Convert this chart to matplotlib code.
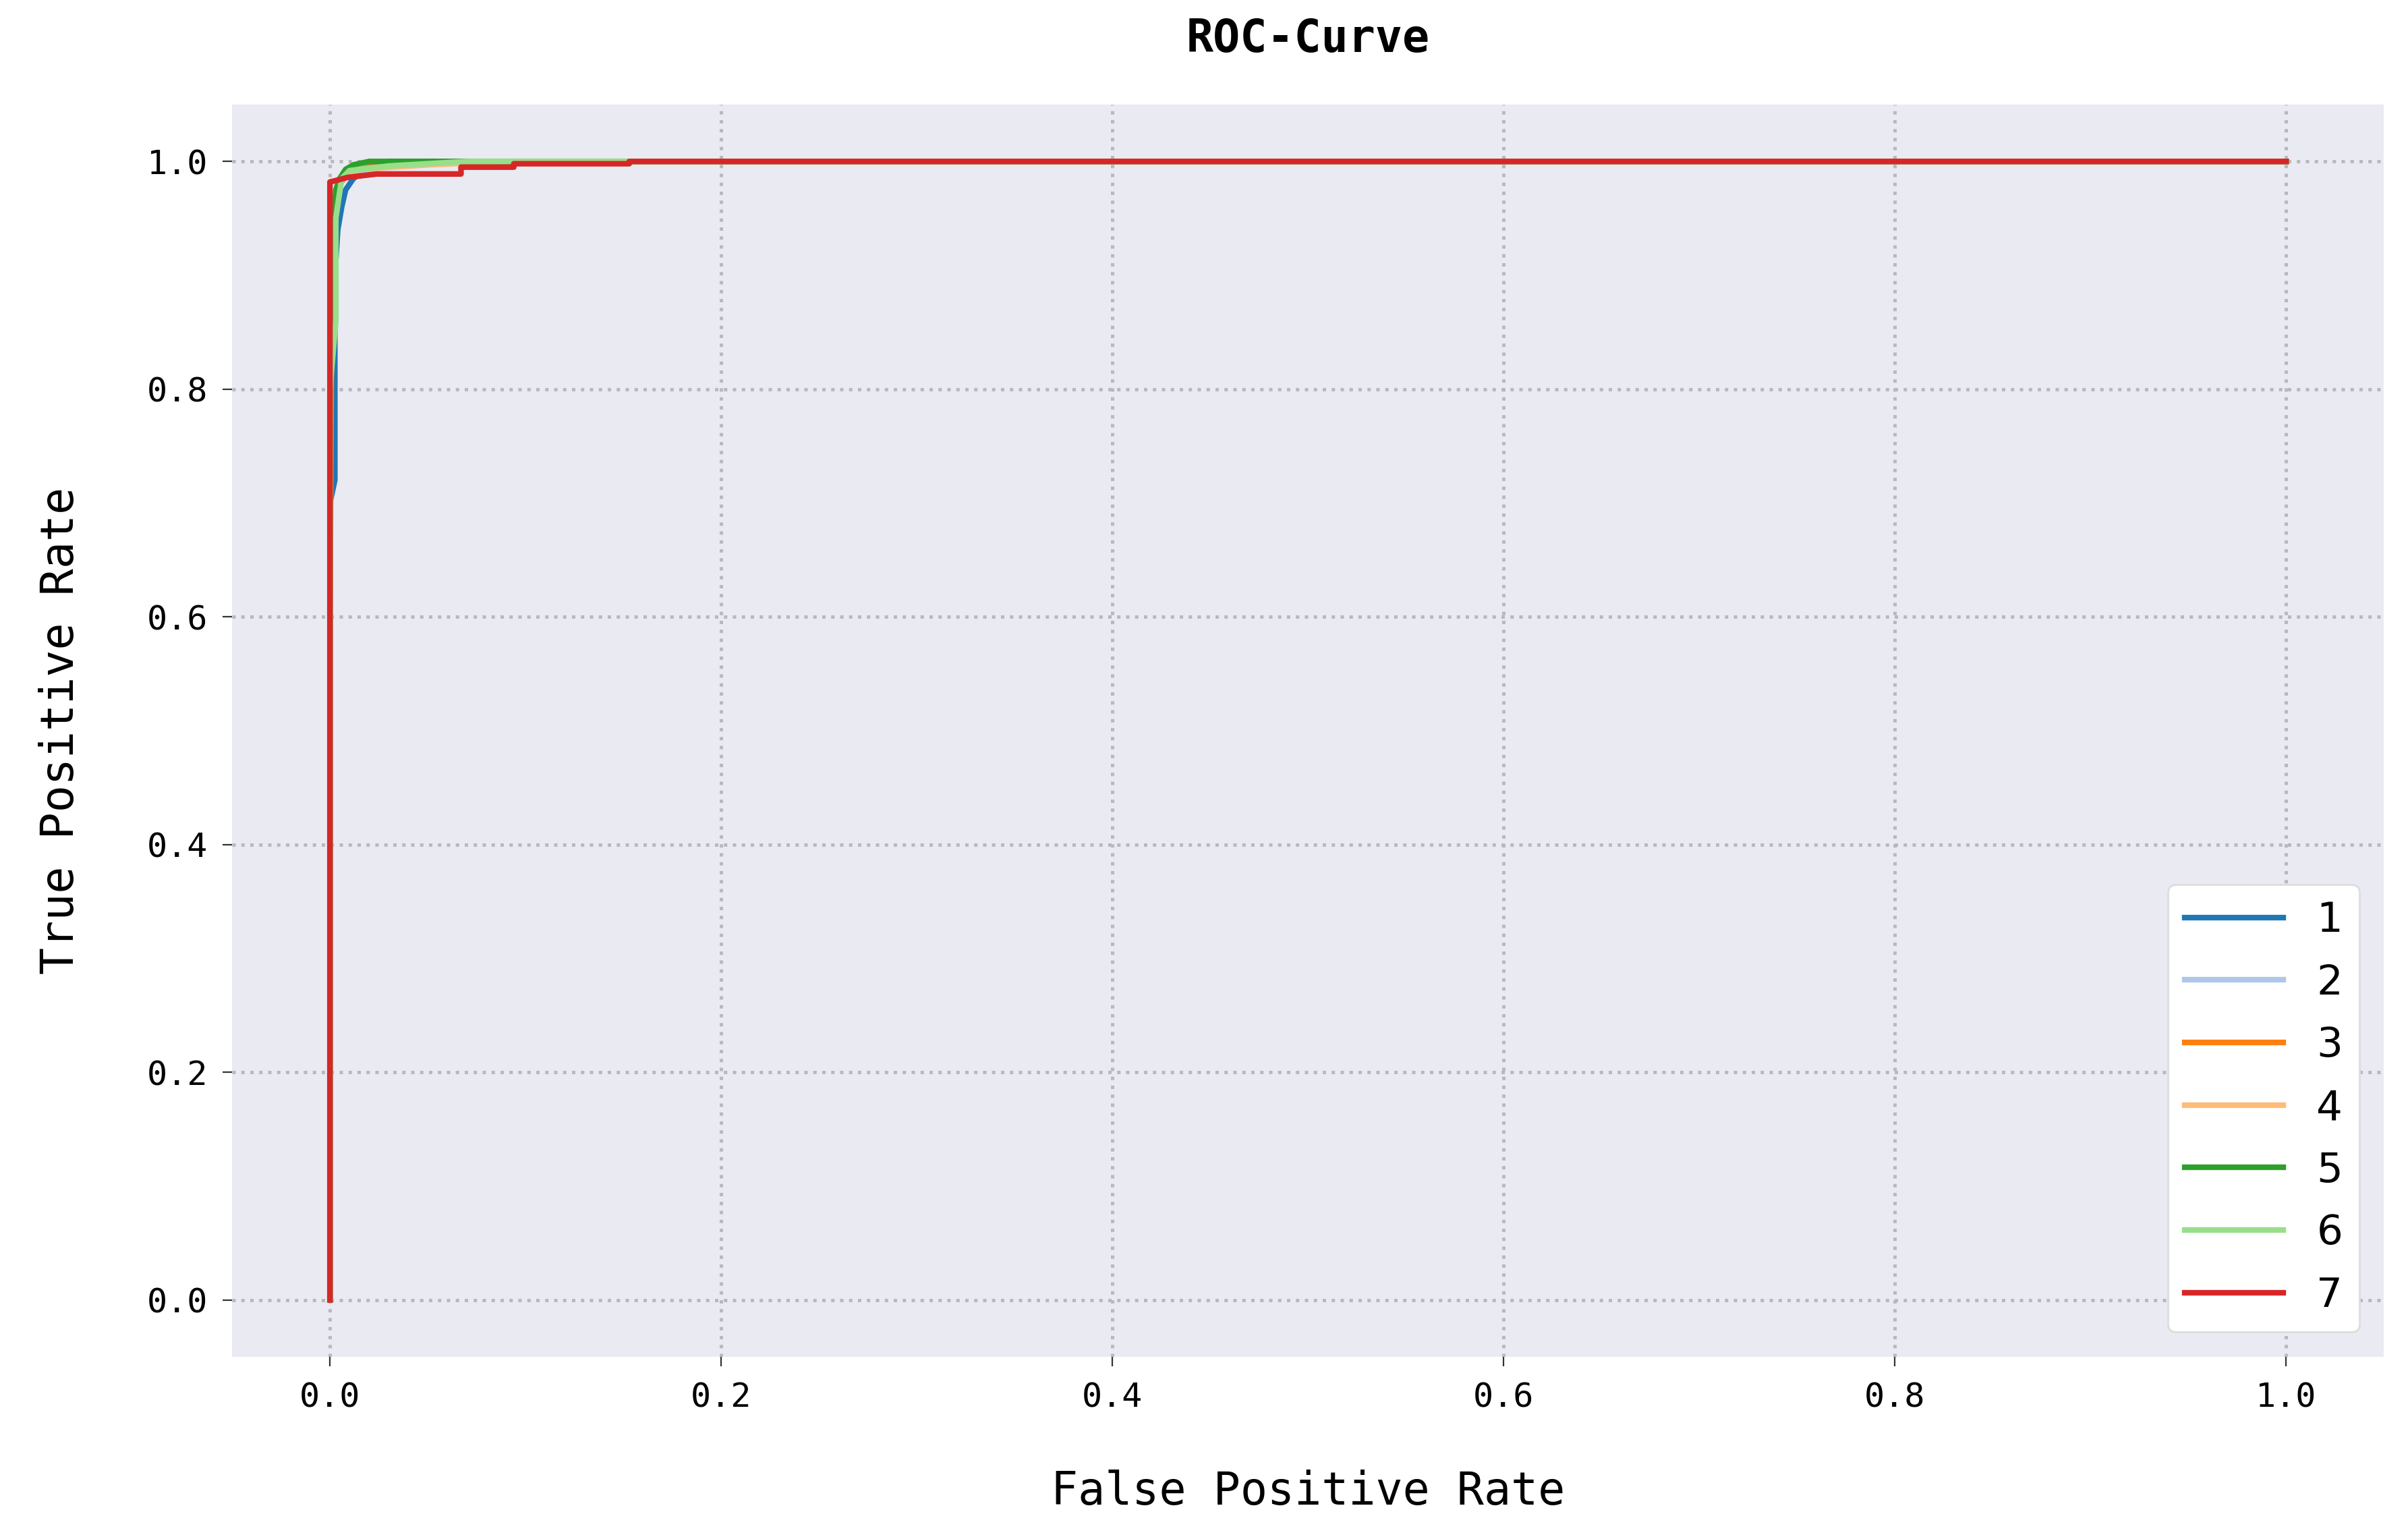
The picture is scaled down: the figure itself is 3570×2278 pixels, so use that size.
import matplotlib
matplotlib.use("Agg")
import matplotlib.pyplot as plt

labels = ["1", "2", "3", "4", "5", "6", "7"]
colors = ["#1f77b4", "#aec7e8", "#ff7f0e", "#ffbb78", "#2ca02c", "#98df8a", "#d62728"]

fpr_1 = [0, 0, 0.0025, 0.0025, 0.004, 0.006, 0.008, 0.012, 0.02, 0.03, 1.0]
tpr_1 = [0, 0.70, 0.72, 0.90, 0.94, 0.96, 0.975, 0.985, 0.995, 1.0, 1.0]
fpr_2 = [0, 0, 0.002, 0.005, 0.01, 0.03, 0.07, 1.0]
tpr_2 = [0, 0.85, 0.95, 0.985, 0.99, 0.996, 1.0, 1.0]
fpr_3 = [0, 0, 0.001, 0.003, 0.008, 0.02, 0.06, 1.0]
tpr_3 = [0, 0.60, 0.90, 0.97, 0.99, 0.995, 1.0, 1.0]
fpr_4 = [0, 0, 0.002, 0.006, 0.015, 0.05, 0.09, 1.0]
tpr_4 = [0, 0.80, 0.95, 0.985, 0.993, 0.997, 1.0, 1.0]
fpr_5 = [0, 0, 0.002, 0.003, 0.005, 0.008, 0.012, 0.02, 1.0]
tpr_5 = [0, 0.85, 0.95, 0.975, 0.985, 0.993, 0.997, 1.0, 1.0]
fpr_6 = [0, 0, 0.003, 0.003, 0.006, 0.01, 0.03, 0.07, 1.0]
tpr_6 = [0, 0.80, 0.86, 0.95, 0.985, 0.992, 0.996, 1.0, 1.0]
fpr_7 = [0, 0, 0.0025, 0.009, 0.024, 0.067, 0.067, 0.094, 0.094, 0.153, 0.153, 1.0]
tpr_7 = [0, 0.982, 0.983, 0.986, 0.989, 0.989, 0.995, 0.995, 0.998, 0.998, 1.0, 1.0]

fprs = [fpr_1, fpr_2, fpr_3, fpr_4, fpr_5, fpr_6, fpr_7]
tprs = [tpr_1, tpr_2, tpr_3, tpr_4, tpr_5, tpr_6, tpr_7]

xticks = [0.0, 0.2, 0.4, 0.6, 0.8, 1.0]
yticks = [0.0, 0.2, 0.4, 0.6, 0.8, 1.0]

mono = "DejaVu Sans Mono"

fig = plt.figure(figsize=(17.85, 11.39), dpi=200)
ax = fig.add_axes([0.0964, 0.1172, 0.8936, 0.8148])
ax.set_facecolor("#eaeaf2")
for s in ax.spines.values():
    s.set_visible(False)

for f, t, c, l in zip(fprs, tprs, colors, labels):
    ax.plot(f, t, color=c, lw=3.0, label=l)

ax.set_xticks(xticks)
ax.set_yticks(yticks)
ax.set_xticklabels([f"{v:.1f}" for v in xticks], fontfamily=mono, fontsize=18)
ax.set_yticklabels([f"{v:.1f}" for v in yticks], fontfamily=mono, fontsize=18)
ax.tick_params(axis="both", length=5, width=0.8, color="#333333", pad=8)
ax.grid(True, linestyle=":", color="#b8b8c0", linewidth=1.8)
ax.set_axisbelow(True)

ax.set_xlabel("False Positive Rate", fontfamily=mono, fontsize=24, labelpad=30)
ax.set_ylabel("True Positive Rate", fontfamily=mono, fontsize=24, labelpad=34)
ax.set_title("ROC-Curve", fontfamily=mono, fontweight="bold", fontsize=24, pad=28)

leg = ax.legend(loc="lower right", fontsize=22, frameon=True, facecolor="white",
                edgecolor="#dddddd", framealpha=1.0, labelspacing=0.55,
                handlelength=2.4, borderaxespad=0.6, markerfirst=True)

fig.savefig("out.png", dpi=200)
